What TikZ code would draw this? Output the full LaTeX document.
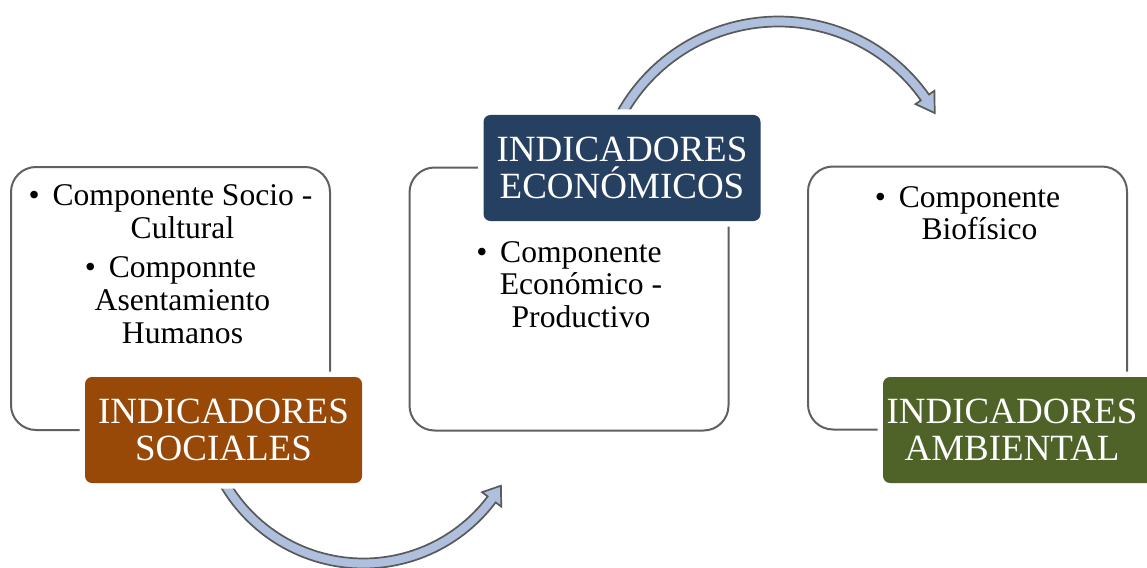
\documentclass[tikz,border=0pt]{standalone}
\usepackage{fontspec}
\setmainfont{Liberation Serif}
\definecolor{orng}{RGB}{152,72,7}
\definecolor{dblue}{RGB}{38,64,97}
\definecolor{olive}{RGB}{79,98,40}
\definecolor{arrfill}{RGB}{174,192,222}
\definecolor{edgegray}{RGB}{96,96,96}
\definecolor{arredge}{RGB}{90,90,90}
\newcommand\mybullet{\makebox[24pt][l]{•}}
\newcommand\myindent{\hspace*{24pt}}
\begin{document}
\begin{tikzpicture}[x=1pt,y=-1pt,
  wbox/.style={draw=edgegray, line width=2pt, rounded corners=25pt, fill=white,
    minimum width=319pt, minimum height=263pt, inner sep=0pt},
  cbox/.style={rounded corners=7pt, minimum width=277pt, minimum height=106pt,
    inner sep=0pt, text=white, align=center,
    font=\fontsize{37pt}{37.5pt}\selectfont,
    preaction={draw=white, line width=11pt}},
  ctext/.style={inner sep=0pt, text=white, align=center,
    font=\fontsize{37pt}{37.5pt}\selectfont},
  btext/.style={anchor=north, align=center, inner sep=0pt,
    font=\fontsize{31.6pt}{32.8pt}\selectfont},
  blockarrow/.style={fill=arrfill, draw=arredge, line width=1.7pt, line join=miter}]
\clip (0,0) rectangle (1147,567);
% white content boxes
\node[wbox] (wl) at (170.5,298.5) {};
\node[wbox] (wm) at (569,299) {};
\node[wbox] (wr) at (967.5,298) {};
% top curved arrow
\filldraw[blockarrow]
  plot[domain=-153:-35.2, samples=60] ({778.4+184.3*cos(\x)},{200.8+184.3*sin(\x)})
  -- ({778.4+190.9*cos(-35.2)},{200.8+190.9*sin(-35.2)})
  -- ({778.4+179.3*cos(-29.3)},{200.8+179.3*sin(-29.3)})
  -- ({778.4+167.8*cos(-35.2)},{200.8+167.8*sin(-35.2)})
  -- plot[domain=-35.2:-153, samples=60] ({778.4+174.3*cos(\x)},{200.8+174.3*sin(\x)})
  -- cycle;
% bottom curved arrow
\filldraw[blockarrow]
  plot[domain=152:36.9, samples=60] ({363.4+165.4*cos(\x)},{403.1+165.4*sin(\x)})
  -- ({363.4+172.4*cos(36.9)},{403.1+172.4*sin(36.9)})
  -- ({363.4+160.4*cos(31.0)},{403.1+160.4*sin(31.0)})
  -- ({363.4+148.4*cos(36.9)},{403.1+148.4*sin(36.9)})
  -- plot[domain=36.9:152, samples=60] ({363.4+155.4*cos(\x)},{403.1+155.4*sin(\x)})
  -- cycle;
% coloured title boxes
\node[cbox, fill=orng] (ol) at (223.5,430) {INDICADORES\\SOCIALES};
\node[cbox, fill=dblue] (bl) at (622,168) {INDICADORES\\ECONÓMICOS};
\node[cbox, fill=olive] (gl) at (1021.5,430) {};
\node[ctext] (gt) at (1012,430) {INDICADORES\\AMBIENTAL};
% body texts
\node[btext] (tl) at (170.5,184.5) {\mybullet Componente Socio -\\\myindent Cultural\\[6.5pt]\mybullet Componnte\\\myindent Asentamiento\\\myindent Humanos};
\node[btext] (tm) at (569,241) {\mybullet Componente\\\myindent Económico -\\\myindent Productivo};
\node[btext] (tr) at (967.5,186) {\mybullet Componente\\\myindent Biofísico};
\end{tikzpicture}
\end{document}
